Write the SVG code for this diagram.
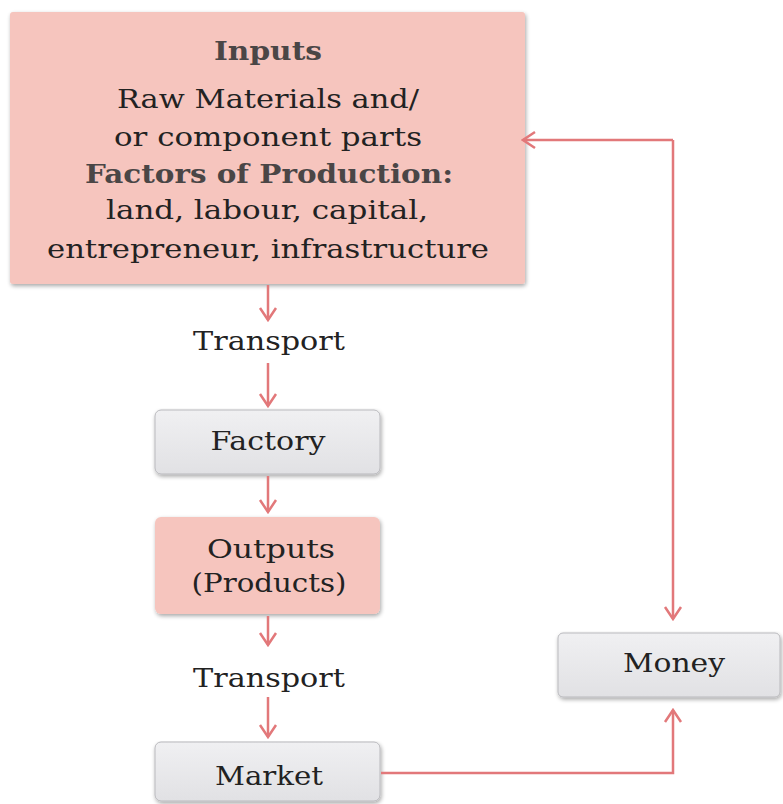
<svg xmlns="http://www.w3.org/2000/svg" width="783" height="804" viewBox="0 0 783 804">
  <defs>
    <style>
      .t { font-family: "DejaVu Serif", "Liberation Serif", serif; font-size: 26px; fill: #222222; text-anchor: middle; }
      .b { font-weight: bold; fill: #4a4646; }
      .pink { fill: #f6c5be; }
      .gray { fill: url(#gg); stroke: #b9b9bd; stroke-width: 1; }
      .line { fill: none; stroke: #e2787a; stroke-width: 2.5; }
    </style>
    <linearGradient id="gg" x1="0" y1="0" x2="0" y2="1">
      <stop offset="0" stop-color="#f0f0f2"/>
      <stop offset="1" stop-color="#e1e1e4"/>
    </linearGradient>
    <filter id="sh" x="-5%" y="-5%" width="110%" height="115%">
      <feGaussianBlur in="SourceAlpha" stdDeviation="2"/>
      <feOffset dx="1" dy="2" result="o"/>
      <feComponentTransfer><feFuncA type="linear" slope="0.35"/></feComponentTransfer>
      <feMerge><feMergeNode/><feMergeNode in="SourceGraphic"/></feMerge>
    </filter>
    <marker id="ah" viewBox="0 0 20 20" refX="18" refY="10" markerWidth="20" markerHeight="20" markerUnits="userSpaceOnUse" orient="auto">
      <path d="M6,2 L18,10 L6,18" fill="none" stroke="#e2787a" stroke-width="2.5"/>
    </marker>
  </defs>
  <rect width="783" height="804" fill="#ffffff"/>

  <g id="inputs">
    <rect x="10" y="12" width="515" height="272" rx="3" class="pink" filter="url(#sh)"/>
    <text class="t b" x="268" y="60" textLength="108" lengthAdjust="spacingAndGlyphs">Inputs</text>
    <text class="t" x="268" y="108" textLength="302" lengthAdjust="spacingAndGlyphs">Raw Materials and/</text>
    <text class="t" x="268" y="146" textLength="308" lengthAdjust="spacingAndGlyphs">or component parts</text>
    <text class="t b" x="269" y="183" textLength="368" lengthAdjust="spacingAndGlyphs">Factors of Production:</text>
    <text class="t" x="267" y="219" textLength="322" lengthAdjust="spacingAndGlyphs">land, labour, capital,</text>
    <text class="t" x="268" y="258" textLength="442" lengthAdjust="spacingAndGlyphs">entrepreneur, infrastructure</text>
  </g>

  <g id="transport1">
    <text class="t" x="269" y="350" textLength="152" lengthAdjust="spacingAndGlyphs">Transport</text>
  </g>

  <g id="factory">
    <rect x="155" y="410" width="225" height="64" rx="6" class="gray" filter="url(#sh)"/>
    <text class="t" x="268" y="450" textLength="115" lengthAdjust="spacingAndGlyphs">Factory</text>
  </g>

  <g id="outputs">
    <rect x="155" y="517" width="225" height="97" rx="6" class="pink" filter="url(#sh)"/>
    <text class="t" x="271" y="558" textLength="128" lengthAdjust="spacingAndGlyphs">Outputs</text>
    <text class="t" x="269" y="592" textLength="155" lengthAdjust="spacingAndGlyphs">(Products)</text>
  </g>

  <g id="transport2">
    <text class="t" x="269" y="687" textLength="152" lengthAdjust="spacingAndGlyphs">Transport</text>
  </g>

  <g id="market">
    <rect x="155" y="742" width="225" height="59" rx="6" class="gray" filter="url(#sh)"/>
    <text class="t" x="269" y="785" textLength="108" lengthAdjust="spacingAndGlyphs">Market</text>
  </g>

  <g id="money">
    <rect x="558" y="633" width="222" height="64" rx="5" class="gray" filter="url(#sh)"/>
    <text class="t" x="674" y="672" textLength="102" lengthAdjust="spacingAndGlyphs">Money</text>
  </g>

  <g id="connectors">
    <line class="line" x1="268" y1="285" x2="268" y2="320" marker-end="url(#ah)"/>
    <line class="line" x1="268" y1="363" x2="268" y2="406" marker-end="url(#ah)"/>
    <line class="line" x1="268" y1="476" x2="268" y2="512" marker-end="url(#ah)"/>
    <line class="line" x1="268" y1="616" x2="268" y2="645" marker-end="url(#ah)"/>
    <line class="line" x1="268" y1="697" x2="268" y2="737" marker-end="url(#ah)"/>
    <polyline class="line" points="381,773 673,773 673,710" marker-end="url(#ah)"/>
    <line class="line" x1="673" y1="140" x2="673" y2="619" marker-end="url(#ah)"/>
    <line class="line" x1="673" y1="140" x2="523" y2="140" marker-end="url(#ah)"/>
  </g>
</svg>
